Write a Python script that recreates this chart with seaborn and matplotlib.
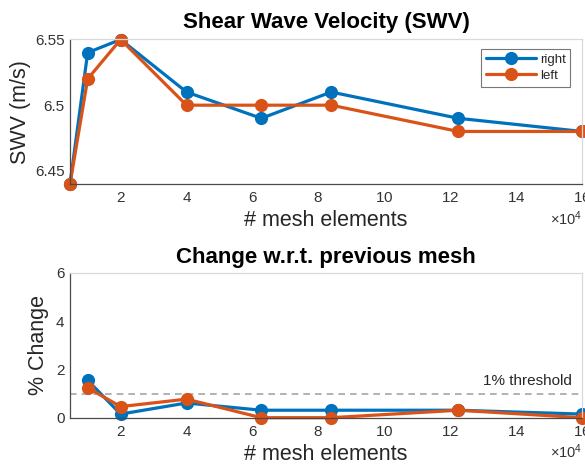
import matplotlib
matplotlib.use("Agg")
import matplotlib.pyplot as plt
import seaborn as sns
import pandas as pd

# Mesh refinement study: element counts and shear wave velocity per side
mesh_elements = [4640, 10000, 20000, 40000, 62700, 83900, 122500, 160000]
swv_right = [6.44, 6.54, 6.55, 6.51, 6.49, 6.51, 6.49, 6.48]
swv_left = [6.44, 6.52, 6.55, 6.50, 6.50, 6.50, 6.48, 6.48]

# Percent change relative to the previous mesh (from the second mesh on)
pct_right = [1.55, 0.15, 0.61, 0.31, 0.31, 0.31, 0.15]
pct_left = [1.24, 0.46, 0.77, 0.00, 0.00, 0.31, 0.00]

sides = ["right", "left"]
threshold = 1.0

sns.set_theme(style="white")
plt.rcParams["font.family"] = ["Liberation Sans", "DejaVu Sans"]
plt.rcParams["mathtext.fontset"] = "custom"
plt.rcParams["mathtext.rm"] = "Liberation Sans"

blue = "#0072BD"
orange = "#D95319"
palette = {"right": blue, "left": orange}
txt = "#262626"
axc = "#4a4a4a"

df_swv = pd.concat([
    pd.DataFrame({"mesh": mesh_elements, "value": swv_right, "side": "right"}),
    pd.DataFrame({"mesh": mesh_elements, "value": swv_left, "side": "left"}),
], ignore_index=True)
df_pct = pd.concat([
    pd.DataFrame({"mesh": mesh_elements[1:], "value": pct_right, "side": "right"}),
    pd.DataFrame({"mesh": mesh_elements[1:], "value": pct_left, "side": "left"}),
], ignore_index=True)

fig = plt.figure(figsize=(5.85, 4.68), dpi=100)
ax1 = fig.add_axes([70 / 585, 1 - 184 / 468, 512 / 585, 144.5 / 468])
ax2 = fig.add_axes([70 / 585, 1 - 417.7 / 468, 512 / 585, 144.7 / 468])

line_kw = dict(marker="o", markersize=9.5, markeredgewidth=0, linewidth=2.3,
               palette=palette, hue_order=sides, clip_on=False)

sns.lineplot(data=df_swv, x="mesh", y="value", hue="side", ax=ax1, **line_kw)
sns.lineplot(data=df_pct, x="mesh", y="value", hue="side", ax=ax2, legend=False, **line_kw)

ax2.axhline(threshold, color="#a6a6a6", linestyle=(0, (4, 3)), linewidth=1.2, zorder=1)
ax2.text(0.98, threshold + 0.52, "1% threshold", transform=ax2.get_yaxis_transform(),
         ha="right", va="center", fontsize=11, color=txt)

for ax in (ax1, ax2):
    ax.set_xlim(mesh_elements[0], mesh_elements[-1])
    ax.set_xticks([20000, 40000, 60000, 80000, 100000, 120000, 140000, 160000])
    ax.ticklabel_format(axis="x", style="sci", scilimits=(4, 4), useMathText=True)
    ax.xaxis.get_offset_text().set_fontsize(10.5)
    ax.xaxis.get_offset_text().set_color("#555555")
    ax.tick_params(direction="in", length=3.5, width=0.8, colors=axc,
                   labelsize=11, labelcolor="#333333", pad=4)
    ax.tick_params(axis="x", pad=5)
    for s in ("left", "bottom"):
        ax.spines[s].set_color(axc)
        ax.spines[s].set_linewidth(0.9)
    for s in ("top", "right"):
        ax.spines[s].set_color("#d9d9d9")
        ax.spines[s].set_linewidth(0.9)
    ax.set_xlabel("# mesh elements", fontsize=15.5, color=txt, labelpad=4)

ax1.set_ylim(6.44, 6.55)
ax1.set_yticks([6.45, 6.5, 6.55])
ax1.set_yticklabels(["6.45", "6.5", "6.55"])
ax1.set_ylabel("SWV (m/s)", fontsize=15.5, color=txt, labelpad=3)
ax1.set_title("Shear Wave Velocity (SWV)", fontsize=16, fontweight="bold", color="black", pad=8)

ax2.set_ylim(0, 6)
ax2.set_yticks([0, 2, 4, 6])
ax2.set_ylabel("% Change", fontsize=15.5, color=txt, labelpad=5)
ax2.set_title("Change w.r.t. previous mesh", fontsize=16, fontweight="bold", color="black", pad=7)

leg = ax1.legend(loc="upper right", bbox_to_anchor=(0.977, 0.934), borderaxespad=0,
                 fontsize=9.5, frameon=True, fancybox=False, edgecolor="#555555",
                 handlelength=3.8, handletextpad=0.3, borderpad=0.35, labelspacing=0.3)
leg.get_frame().set_linewidth(0.8)
for t in leg.get_texts():
    t.set_color(txt)

fig.savefig("out.png", dpi=100)
